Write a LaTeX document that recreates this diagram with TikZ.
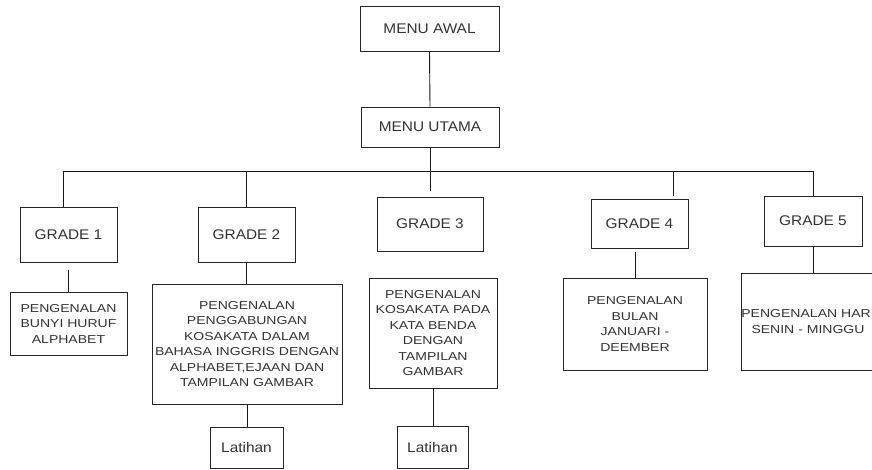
\documentclass[tikz,border=0pt]{standalone}
\usepackage{fontspec}
\usetikzlibrary{calc}
\newfontfamily\lblfamily[FakeStretch=1.1]{Liberation Sans}
\newfontfamily\smlfamily[FakeStretch=1.22]{Liberation Sans}
\newcommand\lblfont{\lblfamily\fontsize{14pt}{16pt}\selectfont}
\newcommand\smlfont{\smlfamily\fontsize{11.5pt}{15.5pt}\selectfont}
\tikzset{
  box/.style={draw=black!85, line width=0.9pt, rectangle, inner sep=0pt,
              text=black!80, align=center, font=\lblfont},
  smallbox/.style={box, font=\smlfont},
  link/.style={draw=black!90, line width=0.9pt}
}
\begin{document}
\begin{tikzpicture}[x=1pt,y=1pt]
  \useasboundingbox (0,0) rectangle (872,-470);
  \clip (0,0) rectangle (872,-470);
  \fill[white] (0,0) rectangle (872,-470);

  % top menus
  \node[box, minimum width=139, minimum height=45] (awal)  at (429.5,-28.5) {MENU AWAL};
  \node[box, minimum width=138, minimum height=40] (utama) at (430,-127)   {MENU UTAMA};

  % grade boxes
  \node[box, minimum width=97,  minimum height=55] (g1) at (68.5,-234.5)  {GRADE 1};
  \node[box, minimum width=97,  minimum height=55] (g2) at (246.5,-234.5) {GRADE 2};
  \node[box, minimum width=106, minimum height=54] (g3) at (430,-224)     {GRADE 3};
  \node[box, minimum width=97,  minimum height=49] (g4) at (639.5,-223.5) {GRADE 4};
  \node[box, minimum width=98,  minimum height=50] (g5) at (813,-221)     {GRADE 5};

  % content boxes
  \node[smallbox, minimum width=117, minimum height=63] (s1) at (68.5,-323.5)
    {PENGENALAN\\BUNYI HURUF\\ALPHABET};
  \node[smallbox, minimum width=190, minimum height=120] (s2) at (247,-344)
    {PENGENALAN\\PENGGABUNGAN\\KOSAKATA DALAM\\BAHASA INGGRIS DENGAN\\ALPHABET,EJAAN DAN\\TAMPILAN GAMBAR};
  \node[smallbox, minimum width=128, minimum height=110] (s3) at (433,-333)
    {PENGENALAN\\KOSAKATA PADA\\KATA BENDA\\DENGAN\\TAMPILAN\\GAMBAR};
  \node[smallbox, minimum width=144, minimum height=92] (s4) at (635,-324)
    {PENGENALAN\\BULAN\\JANUARI -\\DEEMBER};
  \node[smallbox, minimum width=130, minimum height=97] (s5) at (808,-321.5)
    {PENGENALAN HARI\\SENIN - MINGGU};

  % exercise boxes
  \node[box, minimum width=73, minimum height=41] (latA) at (246.5,-447.5) {Latihan};
  \node[box, minimum width=71, minimum height=42] (latB) at (432.5,-447)   {Latihan};

  % main trunk
  \draw[link] (awal.south) -- (utama.north);
  \draw[link, shorten >=6pt] (utama.south) -- (g3.north);

  % branch bus
  \coordinate (busL) at (63,-171);
  \coordinate (busR) at (813,-171);
  \coordinate (g4tap) at ($(g4.north east)+(-15,0)$);
  \draw[link] (busL) -- (busR);
  \draw[link] (busL) -- (busL |- g1.north);
  \draw[link] (g2.north |- busL) -- (g2.north);
  \draw[link, shorten >=3pt] (g4tap |- busL) -- (g4tap);
  \draw[link] (busR) -- (g5.north);

  % grades to contents
  \draw[link, shorten <=8pt] (g1.south) -- (s1.north);
  \draw[link] (g2.south) -- (g2.south |- s2.north);
  \draw[link] ($(g3.south)+(2,0)$) -- ($(g3.south)+(2,0)$ |- s3.north);
  \draw[link, shorten <=4pt] (s4.north |- g4.south) -- (s4.north);
  \draw[link] (g5.south) -- (g5.south |- s5.north);

  % contents to exercises
  \draw[link] (s2.south) -- (s2.south |- latA.north);
  \draw[link] (s3.south) -- (s3.south |- latB.north);
\end{tikzpicture}
\end{document}
